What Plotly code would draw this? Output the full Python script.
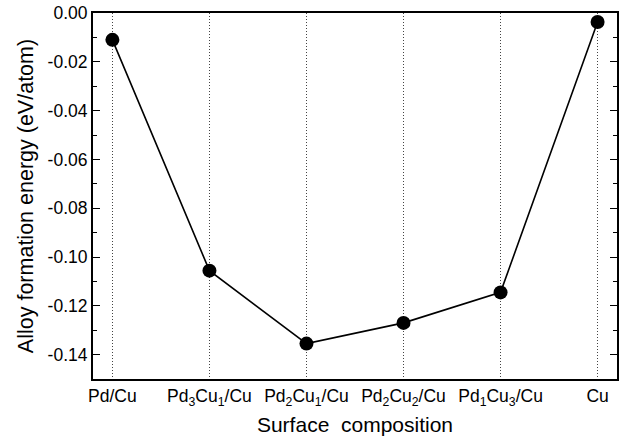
import plotly.graph_objects as go

categories = ["Pd/Cu", "Pd<sub>3</sub>Cu<sub>1</sub>/Cu", "Pd<sub>2</sub>Cu<sub>1</sub>/Cu",
              "Pd<sub>2</sub>Cu<sub>2</sub>/Cu", "Pd<sub>1</sub>Cu<sub>3</sub>/Cu", "Cu"]
energies = [-0.011, -0.1056, -0.1355, -0.127, -0.1145, -0.0037]
positions = [0, 1, 2, 3, 4, 5]
y_tick_vals = [0.00, -0.02, -0.04, -0.06, -0.08, -0.10, -0.12, -0.14]
y_tick_text = ["0.00", "-0.02", "-0.04", "-0.06", "-0.08", "-0.10", "-0.12", "-0.14"]

FONT = "Liberation Sans, Arial, sans-serif"

fig = go.Figure(go.Scatter(
    x=positions, y=energies, mode="lines+markers",
    line=dict(color="black", width=1.6),
    marker=dict(color="black", size=14, symbol="circle"),
    showlegend=False,
))

fig.update_layout(
    width=635, height=441,
    margin=dict(l=93, r=18, t=13, b=62),
    paper_bgcolor="white", plot_bgcolor="white",
    font=dict(family=FONT, color="black", size=17),
)
fig.update_xaxes(
    range=[-0.2, 5.2], tickvals=positions, ticktext=categories, automargin=False,
    showgrid=True, gridcolor="#444444", griddash="1px,2px", gridwidth=1,
    zeroline=False, showline=True, linecolor="black", linewidth=2, mirror=True,
    ticks="", tickfont=dict(size=17.5, family=FONT),
    title=dict(text="Surface  composition", font=dict(size=21, family=FONT), standoff=10),
)
fig.update_yaxes(
    range=[-0.15, 0.0], tickvals=y_tick_vals, ticktext=y_tick_text, automargin=False,
    ticklabeloverflow="allow",
    showgrid=False, zeroline=False, showline=True, linecolor="black", linewidth=2,
    mirror="allticks", ticks="inside", ticklen=7, tickwidth=1, tickcolor="black",
    minor=dict(dtick=0.01, tick0=0, ticks="inside", ticklen=4, tickwidth=1, tickcolor="black", showgrid=False),
    tickfont=dict(size=17.5, family=FONT),
    title=dict(text="Alloy formation energy (eV/atom)", font=dict(size=21.5, family=FONT), standoff=8),
)

fig.write_html("out.html", config={"displayModeBar": False},
               post_script="document.body.style.margin='0';")
